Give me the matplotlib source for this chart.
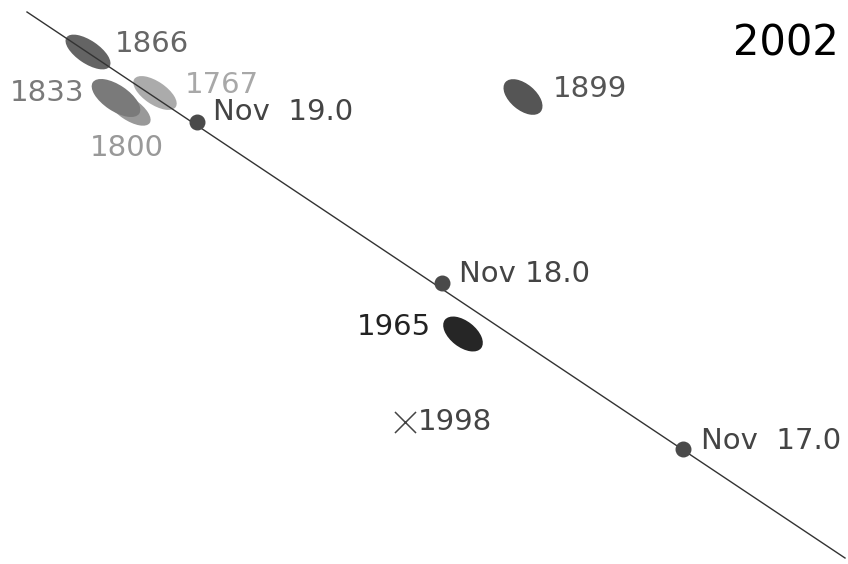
import matplotlib
matplotlib.use('Agg')
import matplotlib.pyplot as plt
from matplotlib.patches import Ellipse

# sky-plane coordinates (screen units, y grows downward)
trail_years = ['1800', '1833', '1866', '1767', '1899', '1965']
trail_x = [129, 116, 88, 155, 523, 463]
trail_y = [109, 98, 52, 93, 97, 334]
trail_len = [50, 56, 52, 50, 46, 46]
trail_wid = [22, 26, 23, 23, 26, 26]
trail_ang = [34, 34, 34, 34, 40, 38]
trail_col = ['#999999', '#7a7a7a', '#646464', '#ababab', '#555555', '#262626']

# Earth's path with day markers
path_x = [27, 845]
path_y = [12, 558]
node_labels = ['Nov  19.0', 'Nov 18.0', 'Nov  17.0']
node_x = [197, 442, 683]
node_y = [122, 283, 449]

# 1998 trail (no encounter)
miss_x = [405]
miss_y = [422]

fig = plt.figure(figsize=(8.48, 5.64), dpi=100)
ax = fig.add_axes([0, 0, 1, 1])
ax.set_xlim(0, 848)
ax.set_ylim(564, 0)
ax.axis('off')

for x, y, w, h, a, c in zip(trail_x, trail_y, trail_len, trail_wid, trail_ang, trail_col):
    ax.add_patch(Ellipse((x, y), w, h, angle=a, facecolor=c, edgecolor='none', zorder=2))

ax.plot(path_x, path_y, color='#333333', lw=1.0, zorder=3)
ax.scatter(node_x, node_y, s=110, color='#4a4a4a', zorder=4)
ax.scatter(miss_x, miss_y, s=230, marker='x', color='#444444', linewidths=1.1, zorder=4)

fs = 21
ax.text(115, 44, '1866', fontsize=fs, color='#666666', va='center')
ax.text(185, 85, '1767', fontsize=fs, color='#a8a8a8', va='center')
ax.text(10, 93, '1833', fontsize=fs, color='#7a7a7a', va='center')
ax.text(90, 148, '1800', fontsize=fs, color='#999999', va='center')
ax.text(553, 89, '1899', fontsize=fs, color='#555555', va='center')
ax.text(357, 327, '1965', fontsize=fs, color='#222222', va='center')
ax.text(418, 422, '1998', fontsize=fs, color='#444444', va='center')

offsets = [(16, -10), (17, -9), (18, -8)]
for lab, x, y, (dx, dy) in zip(node_labels, node_x, node_y, offsets):
    ax.text(x + dx, y + dy, lab, fontsize=fs, color='#444444', va='center')

ax.text(733, 44, '2002', fontsize=30, color='black', va='center')

fig.savefig('out.png', dpi=100, facecolor='white')
